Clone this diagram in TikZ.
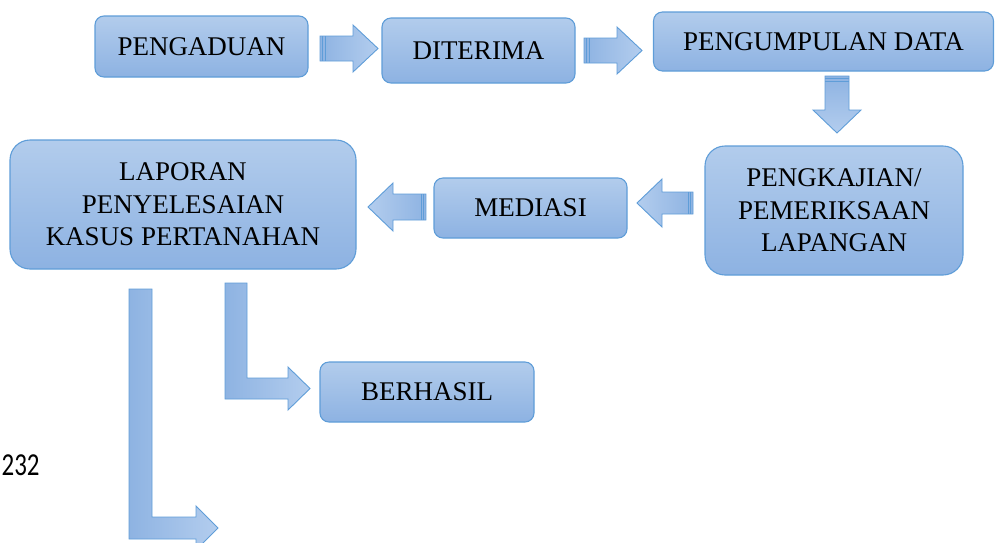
\documentclass[tikz,border=0pt]{standalone}
\usepackage{fontspec}
\setmainfont{Liberation Serif}
\newfontfamily\numfont{Carlito}
\definecolor{boxtop}{HTML}{B2CCEC}
\definecolor{boxbot}{HTML}{8DB2E2}
\definecolor{bord}{HTML}{5F9DD8}
\definecolor{arrdark}{HTML}{8EB3E2}
\definecolor{arrlight}{HTML}{B3CDEE}
\tikzset{
  box/.style={draw=bord, line width=1.1pt, rounded corners=#1, top color=boxtop, bottom color=boxbot,
    align=center, font=\fontsize{27}{32.5}\selectfont, inner sep=0pt, text=black},
  box/.default=9pt,
  barrow/.style={draw=bord, line width=0.9pt, line join=miter},
  stripe/.style={draw=bord, line width=0.9pt},
}
\begin{document}
\begin{tikzpicture}[x=1pt,y=-1pt]
\useasboundingbox (0,0) rectangle (995,542);
% boxes
\node[box, minimum width=213pt, minimum height=61pt] (peng) at (201.5,46.5) {PENGADUAN};
\node[box, minimum width=193pt, minimum height=65pt] (dit) at (478.5,50.5) {DITERIMA};
\node[box, minimum width=340pt, minimum height=59pt] (pdata) at (823.5,41.5) {PENGUMPULAN DATA};
\node[box=20pt, minimum width=258pt, minimum height=129pt] (pkaj) at (834,210.5) {PENGKAJIAN/\\PEMERIKSAAN\\LAPANGAN};
\node[box, minimum width=193pt, minimum height=60pt] (med) at (530.5,208) {MEDIASI};
\node[box=20pt, minimum width=346pt, minimum height=129pt] (lap) at (183,204.5) {LAPORAN\\PENYELESAIAN\\KASUS PERTANAHAN};
\node[box, minimum width=214pt, minimum height=60pt] (ber) at (427,392) {BERHASIL};
% right arrow 1
\path[barrow, left color=arrdark, right color=arrlight] (320,36) -- (353,36) -- (353,25) -- (378,48.5) -- (353,72) -- (353,61) -- (320,61) -- cycle;
\draw[stripe] (322.5,36) -- (322.5,61) (325,36) -- (325,61);
% right arrow 2
\path[barrow, left color=arrdark, right color=arrlight] (584,38) -- (617,38) -- (617,27) -- (642,50.5) -- (617,74) -- (617,63) -- (584,63) -- cycle;
\draw[stripe] (586.5,38) -- (586.5,63) (589,38) -- (589,63);
% down arrow
\path[barrow, top color=arrdark, bottom color=arrlight] (825,76) -- (849,76) -- (849,110) -- (861,110) -- (837,133) -- (813,110) -- (825,110) -- cycle;
\draw[stripe] (825,78.5) -- (849,78.5) (825,81) -- (849,81);
% left arrow 3
\path[barrow, right color=arrdark, left color=arrlight] (693,192) -- (662,192) -- (662,179) -- (637,203) -- (662,227) -- (662,214) -- (693,214) -- cycle;
\draw[stripe] (690.5,192) -- (690.5,214) (688,192) -- (688,214);
% left arrow 4
\path[barrow, right color=arrdark, left color=arrlight] (426,194) -- (393,194) -- (393,183) -- (368,207) -- (393,231) -- (393,220) -- (426,220) -- cycle;
\draw[stripe] (423.5,194) -- (423.5,220) (421,194) -- (421,220);
% L arrow B (to BERHASIL)
\path[barrow, left color=arrdark, right color=arrlight] (225,283) -- (247,283) -- (247,378) -- (288,378) -- (288,367) -- (310,388.5) -- (288,410) -- (288,399) -- (225,399) -- cycle;
% L arrow A (long)
\path[barrow, left color=arrdark, right color=arrlight] (129,289) -- (152,289) -- (152,517) -- (196,517) -- (196,506) -- (218,528) -- (196,550) -- (196,539) -- (129,539) -- cycle;
% page number
\node[anchor=base west, font=\numfont\fontsize{32}{32}\selectfont, inner sep=0pt, xscale=0.78] (pg) at (1.5,475) {232};
\end{tikzpicture}
\end{document}
